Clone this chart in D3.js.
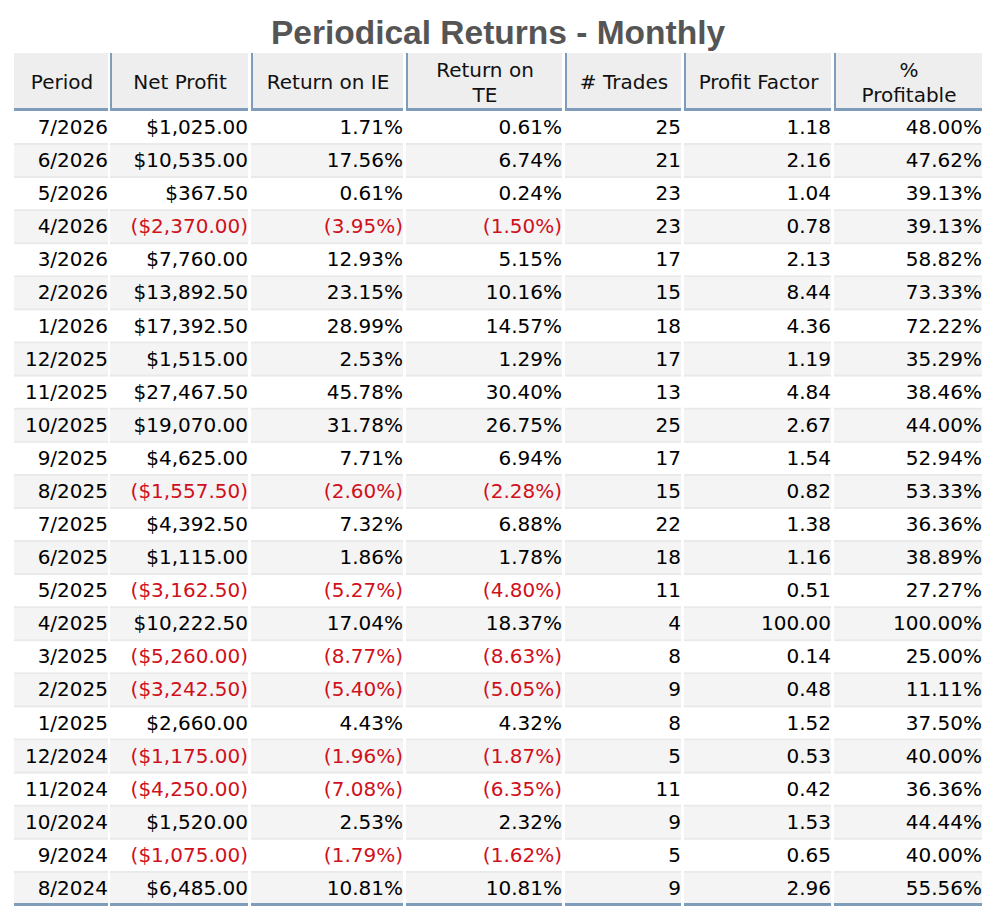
<!DOCTYPE html>
<html>
<head>
<meta charset="utf-8">
<script src="https://cdn.jsdelivr.net/npm/d3@7"></script>
<style>
  body { margin: 0; background: #fff; }
</style>
</head>
<body>
<div id="chart"></div>
<script>
const columns = ["Period", "Net Profit", "Return on IE", "Return on\nTE", "# Trades", "Profit Factor", "%\nProfitable"];
const periods = ["7/2026","6/2026","5/2026","4/2026","3/2026","2/2026","1/2026","12/2025","11/2025","10/2025","9/2025","8/2025","7/2025","6/2025","5/2025","4/2025","3/2025","2/2025","1/2025","12/2024","11/2024","10/2024","9/2024","8/2024"];
const netProfit = [1025, 10535, 367.5, -2370, 7760, 13892.5, 17392.5, 1515, 27467.5, 19070, 4625, -1557.5, 4392.5, 1115, -3162.5, 10222.5, -5260, -3242.5, 2660, -1175, -4250, 1520, -1075, 6485];
const returnIE = [1.71, 17.56, 0.61, -3.95, 12.93, 23.15, 28.99, 2.53, 45.78, 31.78, 7.71, -2.60, 7.32, 1.86, -5.27, 17.04, -8.77, -5.40, 4.43, -1.96, -7.08, 2.53, -1.79, 10.81];
const returnTE = [0.61, 6.74, 0.24, -1.50, 5.15, 10.16, 14.57, 1.29, 30.40, 26.75, 6.94, -2.28, 6.88, 1.78, -4.80, 18.37, -8.63, -5.05, 4.32, -1.87, -6.35, 2.32, -1.62, 10.81];
const trades = [25, 21, 23, 23, 17, 15, 18, 17, 13, 25, 17, 15, 22, 18, 11, 4, 8, 9, 8, 5, 11, 9, 5, 9];
const profitFactor = [1.18, 2.16, 1.04, 0.78, 2.13, 8.44, 4.36, 1.19, 4.84, 2.67, 1.54, 0.82, 1.38, 1.16, 0.51, 100.00, 0.14, 0.48, 1.52, 0.53, 0.42, 1.53, 0.65, 2.96];
const pctProfitable = [48.00, 47.62, 39.13, 39.13, 58.82, 73.33, 72.22, 35.29, 38.46, 44.00, 52.94, 53.33, 36.36, 38.89, 27.27, 100.00, 25.00, 11.11, 37.50, 40.00, 36.36, 44.44, 40.00, 55.56];

// layout
const width = 1000, height = 920;
const colEdges = [[14,108],[110,248],[251,403],[406,562],[565,681],[684,831],[834,982]];
const headTop = 53, headBottom = 111, tableBottom = 906;
const borderBlue = "#7f9dba", negRed = "#d0101b";

const money = d3.format("$,.2f"), fix2 = d3.format(".2f");
const fmtMoney = v => v < 0 ? "(" + money(-v) + ")" : money(v);
const fmtPct = v => v < 0 ? "(" + fix2(-v) + "%)" : fix2(v) + "%";

const rows = periods.map((p, i) => ({
  cells: [p, fmtMoney(netProfit[i]), fmtPct(returnIE[i]), fmtPct(returnTE[i]),
          String(trades[i]), fix2(profitFactor[i]), fix2(pctProfitable[i]) + "%"],
  neg: [false, netProfit[i] < 0, returnIE[i] < 0, returnTE[i] < 0, false, false, false]
}));

const svg = d3.select("#chart").append("svg")
    .attr("width", width)
    .attr("height", height)
    .style("font-family", "'DejaVu Sans', Verdana, sans-serif");

svg.append("text")
    .attr("x", 498)
    .attr("y", 32)
    .attr("text-anchor", "middle")
    .attr("dominant-baseline", "central")
    .attr("font-family", "'Liberation Sans', Arial, sans-serif")
    .attr("font-weight", "bold")
    .attr("font-size", 33.5)
    .attr("fill", "#555")
    .text("Periodical Returns - Monthly");

const y = d3.scaleBand().domain(periods).range([headBottom + 1, tableBottom]);

// header
const head = svg.append("g").selectAll("g").data(columns).join("g");
head.append("rect")
    .attr("x", (d, i) => colEdges[i][0])
    .attr("y", headTop)
    .attr("width", (d, i) => colEdges[i][1] - colEdges[i][0])
    .attr("height", headBottom - headTop)
    .attr("fill", "#eeeeee");
head.append("rect")
    .attr("x", (d, i) => colEdges[i][0])
    .attr("y", headBottom - 3)
    .attr("width", (d, i) => colEdges[i][1] - colEdges[i][0])
    .attr("height", 3)
    .attr("fill", borderBlue);
head.filter((d, i) => i > 0).append("rect")
    .attr("x", (d, i) => colEdges[i + 1][0])
    .attr("y", headTop)
    .attr("width", 2)
    .attr("height", headBottom - headTop)
    .attr("fill", borderBlue);
head.each(function(d, i) {
  const lines = d.split("\n");
  const cx = (colEdges[i][0] + colEdges[i][1]) / 2 + 1;
  const cy = 82;
  d3.select(this).selectAll("text.h").data(lines).join("text")
      .attr("class", "h")
      .attr("x", cx)
      .attr("y", (l, j) => cy + (j - (lines.length - 1) / 2) * 25)
      .attr("text-anchor", "middle")
      .attr("dominant-baseline", "central")
      .attr("font-size", 20)
      .attr("fill", "#111")
      .text(l => l);
});

// body
const row = svg.append("g").selectAll("g").data(rows).join("g")
    .attr("transform", (d, i) => `translate(0,${y(periods[i])})`);

row.each(function(r, ri) {
  const g = d3.select(this);
  const h = y.bandwidth();
  const last = ri === rows.length - 1;
  colEdges.forEach(([x0, x1], ci) => {
    g.append("rect")
        .attr("x", x0).attr("y", 0)
        .attr("width", x1 - x0).attr("height", h)
        .attr("fill", ri % 2 ? "#f4f4f4" : "#ffffff");
    g.append("rect")
        .attr("x", x0).attr("y", last ? h - 3 : h - 2)
        .attr("width", x1 - x0).attr("height", last ? 3 : 2)
        .attr("fill", last ? borderBlue : "#e9e9e9");
    g.append("text")
        .attr("x", x1)
        .attr("y", h / 2 - 1.5)
        .attr("text-anchor", "end")
        .attr("dominant-baseline", "central")
        .attr("font-size", 20)
        .attr("fill", r.neg[ci] ? negRed : "#000")
        .text(r.cells[ci]);
  });
});
</script>
</body>
</html>
